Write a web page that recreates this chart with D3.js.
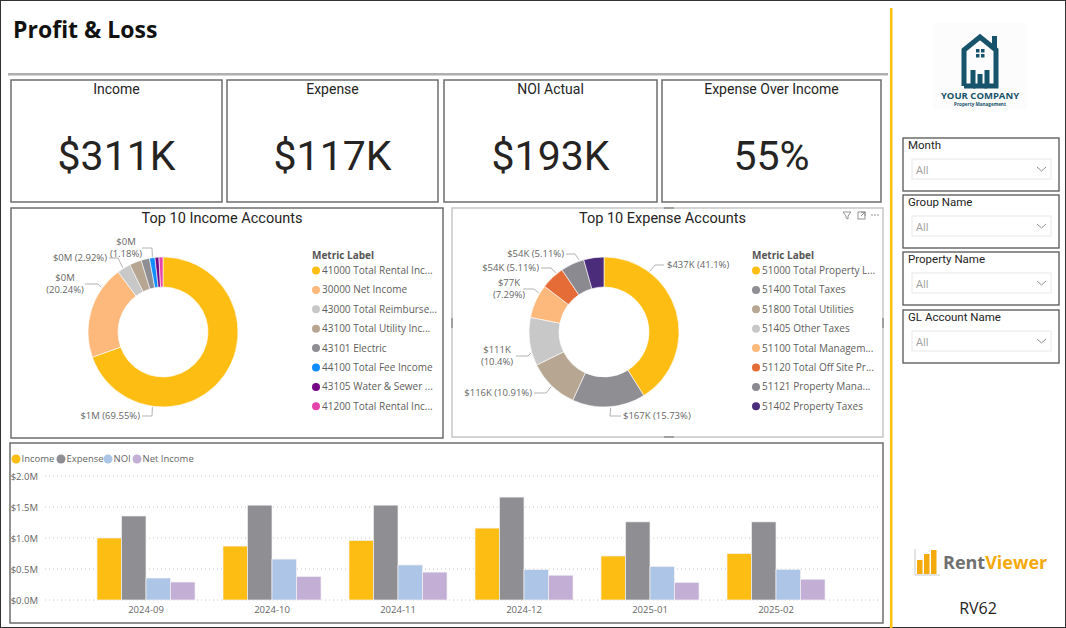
<!DOCTYPE html>
<html>
<head>
<meta charset="utf-8">
<script src="https://cdn.jsdelivr.net/npm/d3@7"></script>
<style>
  body { margin: 0; background: #fff; }
  svg { display: block; font-family: "Open Sans", sans-serif; }
</style>
</head>
<body>
<script>
const pageWidth = 1066;
const pageHeight = 628;

// KPI cards
const kpiTitles = ['Income', 'Expense', 'NOI Actual', 'Expense Over Income'];
const kpiValues = ['$311K', '$117K', '$193K', '55%'];

// Top 10 income accounts
const incomeAccounts = ['41000 Total Rental Inc...', '30000 Net Income', '43000 Total Reimburse...',
  '43100 Total Utility Inc...', '43101 Electric', '44100 Total Fee Income',
  '43105 Water & Sewer ...', '41200 Total Rental Inc...'];
const incomePct = [69.55, 20.24, 2.92, 2.6, 1.8, 1.18, 0.85, 0.86];
const incomeValueLabels = ['$1M', '$0M', '$0M', '$0M', '$0M', '$0M', '$0M', '$0M'];
const incomeColors = ['#FDBD12', '#FDB97C', '#C8C8C8', '#B6A692', '#8E8E93', '#118DFF', '#750985', '#E645AB'];

// Top 10 expense accounts
const expenseAccounts = ['51000 Total Property L...', '51400 Total Taxes', '51800 Total Utilities',
  '51405 Other Taxes', '51100 Total Managem...', '51120 Total Off Site Pr...',
  '51121 Property Mana...', '51402 Property Taxes'];
const expensePct = [41.1, 15.73, 10.91, 10.4, 7.29, 5.11, 5.11, 4.35];
const expenseValueLabels = ['$437K', '$167K', '$116K', '$111K', '$77K', '$54K', '$54K', '$46K'];
const expenseColors = ['#FDBD12', '#8E8E93', '#B6A692', '#C8C8C8', '#FDB97C', '#E66C37', '#8A8A90', '#4B2C7A'];

// Monthly bars ($M)
const months = ['2024-09', '2024-10', '2024-11', '2024-12', '2025-01', '2025-02'];
const seriesNames = ['Income', 'Expense', 'NOI', 'Net Income'];
const seriesColors = ['#FDBD12', '#8E8E93', '#ADC6E7', '#C3AED5'];
const incomeM = [1.0, 0.87, 0.96, 1.16, 0.71, 0.75];
const expenseM = [1.355, 1.53, 1.53, 1.66, 1.26, 1.26];
const noiM = [0.355, 0.66, 0.565, 0.49, 0.54, 0.495];
const netIncomeM = [0.29, 0.38, 0.45, 0.40, 0.285, 0.335];
const yTicks = [0, 0.5, 1.0, 1.5, 2.0];

// Slicers
const slicerTitles = ['Month', 'Group Name', 'Property Name', 'GL Account Name'];

// leader layouts (angle in degrees, offsets from donut centre)
const incomeLabelLayout = [
  { i: 0, a: 188, ex: -11, ey: 84, lx: -21, tx: -23, anchor: 'end', two: false },
  { i: 1, a: 306, ex: -65, ey: -48, lx: -78, tx: -98, anchor: 'middle', two: true },
  { i: 2, a: 328, ex: -45, ey: -74, lx: -54, tx: -56, anchor: 'end', two: false },
  { i: 5, a: 352, ex: -11, ey: -84, lx: -21, tx: -37, anchor: 'middle', two: true }
];
const expenseLabelLayout = [
  { i: 0, a: 37, ex: 51, ey: -67, lx: 60, tx: 63, anchor: 'start', two: false },
  { i: 1, a: 175, ex: 6, ey: 84, lx: 17, tx: 19, anchor: 'start', two: false },
  { i: 2, a: 224, ex: -58, ey: 61, lx: -70, tx: -72, anchor: 'end', two: false },
  { i: 3, a: 254, ex: -76, ey: 24, lx: -88, tx: -107, anchor: 'middle', two: true },
  { i: 4, a: 301, ex: -70, ey: -43, lx: -81, tx: -95, anchor: 'middle', two: true },
  { i: 5, a: 321, ex: -53, ey: -64, lx: -63, tx: -65, anchor: 'end', two: false },
  { i: 6, a: 341, ex: -29, ey: -78, lx: -38, tx: -40, anchor: 'end', two: false }
];

const dinFont = 'Roboto, sans-serif';
const panelStroke = '#6d6d6d';
const textGrey = '#666';

const svg = d3.select('body')
  .append('svg')
  .attr('width', pageWidth)
  .attr('height', pageHeight);

svg.append('rect')
  .attr('x', 0.5).attr('y', 0.5)
  .attr('width', pageWidth - 1).attr('height', pageHeight - 1)
  .attr('fill', '#fff').attr('stroke', '#333');

svg.append('text')
  .attr('x', 13).attr('y', 38)
  .attr('font-size', 23).attr('font-weight', 700)
  .attr('fill', '#111')
  .text('Profit & Loss');

svg.append('rect')
  .attr('x', 8).attr('y', 73).attr('width', 880).attr('height', 2.5)
  .attr('fill', '#aeaeae');

// yellow divider
svg.append('rect')
  .attr('x', 890).attr('y', 8).attr('width', 2.5).attr('height', pageHeight - 8)
  .attr('fill', '#FFC20E');

// KPI cards
const cardX = [11, 227, 444, 662];
const cardW = [211, 211, 213, 219];
kpiTitles.forEach((t, i) => {
  const g = svg.append('g').attr('transform', `translate(${cardX[i]},80)`);
  g.append('rect').attr('width', cardW[i]).attr('height', 122)
    .attr('fill', '#fff').attr('stroke', panelStroke).attr('stroke-width', 1.5);
  g.append('text').attr('x', cardW[i] / 2).attr('y', 14)
    .attr('text-anchor', 'middle').attr('font-family', dinFont)
    .attr('font-size', 14).attr('fill', '#252423').text(t);
  g.append('text').attr('x', cardW[i] / 2).attr('y', 90)
    .attr('text-anchor', 'middle').attr('font-family', dinFont)
    .attr('font-size', 41).attr('fill', '#252423').text(kpiValues[i]);
});

// donut panels
function drawDonutPanel(px, py, pw, ph, title, accounts, pcts, valueLabels, colors, layout, legendX, border) {
  const panel = svg.append('g').attr('transform', `translate(${px},${py})`);
  panel.append('rect').attr('width', pw).attr('height', ph)
    .attr('fill', '#fff').attr('stroke', border).attr('stroke-width', 1.5);
  panel.append('text').attr('x', pw / 2 - 5).attr('y', 15)
    .attr('text-anchor', 'middle').attr('font-family', dinFont)
    .attr('font-size', 14.5).attr('fill', '#252423').text(title);

  const cx = 152, cy = 124, outerR = 75, innerR = 45;
  const g = panel.append('g').attr('transform', `translate(${cx},${cy})`);
  const pie = d3.pie().sort(null).value(d => d);
  const arc = d3.arc().innerRadius(innerR).outerRadius(outerR);
  g.selectAll('path.slice')
    .data(pie(pcts))
    .enter()
    .append('path')
    .attr('class', 'slice')
    .attr('d', arc)
    .attr('fill', (d, i) => colors[i])
    .attr('stroke', '#fff')
    .attr('stroke-width', 0.6);

  layout.forEach(l => {
    const rad = l.a * Math.PI / 180;
    const sx = (outerR + 1) * Math.sin(rad);
    const sy = -(outerR + 1) * Math.cos(rad);
    g.append('polyline')
      .attr('points', `${sx},${sy} ${l.ex},${l.ey} ${l.lx},${l.ey}`)
      .attr('fill', 'none').attr('stroke', '#b3b3b3').attr('stroke-width', 1);
    const pctText = `(${pcts[l.i]}%)`;
    const t = g.append('text').attr('text-anchor', l.anchor)
      .attr('font-size', 9.5).attr('fill', textGrey);
    if (l.two) {
      t.append('tspan').attr('x', l.tx).attr('y', l.ey - 6).attr('dy', '0.35em').text(valueLabels[l.i]);
      t.append('tspan').attr('x', l.tx).attr('y', l.ey + 6).attr('dy', '0.35em').text(pctText);
    } else {
      t.attr('x', l.tx).attr('y', l.ey).attr('dy', '0.35em').text(`${valueLabels[l.i]} ${pctText}`);
    }
  });

  const legend = panel.append('g').attr('transform', `translate(${legendX},0)`);
  legend.append('text').attr('x', 0).attr('y', 47).attr('dy', '0.35em')
    .attr('font-size', 10).attr('font-weight', 700).attr('fill', '#555')
    .text('Metric Label');
  const items = legend.selectAll('g.item')
    .data(accounts)
    .enter()
    .append('g')
    .attr('class', 'item')
    .attr('transform', (d, i) => `translate(0,${62.5 + i * 19.4})`);
  items.append('circle').attr('cx', 4).attr('cy', 0).attr('r', 4)
    .attr('fill', (d, i) => colors[i]);
  items.append('text').attr('x', 10).attr('y', 0).attr('dy', '0.35em')
    .attr('font-size', 10).attr('fill', '#605E5C').text(d => d);
  return panel;
}

drawDonutPanel(11, 208, 432, 230, 'Top 10 Income Accounts', incomeAccounts, incomePct,
  incomeValueLabels, incomeColors, incomeLabelLayout, 301, panelStroke);
const expensePanel = drawDonutPanel(452, 208, 431, 229, 'Top 10 Expense Accounts', expenseAccounts, expensePct,
  expenseValueLabels, expenseColors, expenseLabelLayout, 300, '#c6c6c6');

// expense panel header icons and handles
const icons = expensePanel.append('g').attr('fill', 'none').attr('stroke', '#8a8a8a').attr('stroke-width', 0.9);
icons.append('path').attr('d', 'M391,4 h8 l-3,4 v3 l-2,-1 v-2 z');
icons.append('rect').attr('x', 406).attr('y', 4).attr('width', 7).attr('height', 7);
icons.append('path').attr('d', 'M409,4 h4 v4 M413,4 l-4,4');
[420, 423, 426].forEach(x => {
  expensePanel.append('circle').attr('cx', x).attr('cy', 7).attr('r', 0.8).attr('fill', '#8a8a8a');
});
[[212, -1, 10, 2], [212, 228, 10, 2], [-1, 110, 2, 10], [430, 110, 2, 10]].forEach(h => {
  expensePanel.append('rect').attr('x', h[0]).attr('y', h[1]).attr('width', h[2]).attr('height', h[3])
    .attr('fill', '#a0a0a0');
});

// grouped bar chart
const barPanel = svg.append('g');
barPanel.append('rect').attr('x', 10).attr('y', 443).attr('width', 873).attr('height', 180)
  .attr('fill', '#fff').attr('stroke', panelStroke).attr('stroke-width', 1.5);

const legendOffsets = [16, 61, 108, 137];
seriesNames.forEach((s, i) => {
  barPanel.append('circle').attr('cx', legendOffsets[i]).attr('cy', 459).attr('r', 4.5)
    .attr('fill', seriesColors[i]);
  barPanel.append('text').attr('x', legendOffsets[i] + 5.5).attr('y', 459).attr('dy', '0.35em')
    .attr('font-size', 9.5).attr('fill', textGrey).text(s);
});

const x0 = d3.scaleBand().domain(months).range([83, 839]).paddingInner(0.222).paddingOuter(0.111);
const x1 = d3.scaleBand().domain(seriesNames).range([0, x0.bandwidth()]);
const yScale = d3.scaleLinear().domain([0, 2]).range([600, 476]);

barPanel.append('g')
  .selectAll('line')
  .data(yTicks)
  .enter()
  .append('line')
  .attr('x1', 45).attr('x2', 880)
  .attr('y1', d => yScale(d)).attr('y2', d => yScale(d))
  .attr('stroke', '#c8c8c8').attr('stroke-width', 1).attr('stroke-dasharray', '1,3');

const yAxis = d3.axisLeft(yScale).tickValues(yTicks).tickSize(0).tickPadding(0)
  .tickFormat(d => `$${d.toFixed(1)}M`);
const yAxisG = barPanel.append('g').attr('transform', 'translate(38,0)').call(yAxis);
yAxisG.select('.domain').remove();
yAxisG.selectAll('text').attr('font-size', 9.5).attr('fill', textGrey).attr('font-family', '"Open Sans", sans-serif');

const rows = months.map((m, i) => ({ month: m, values: [incomeM[i], expenseM[i], noiM[i], netIncomeM[i]] }));
barPanel.append('g')
  .selectAll('g')
  .data(rows)
  .enter()
  .append('g')
  .attr('transform', d => `translate(${x0(d.month)},0)`)
  .selectAll('rect')
  .data(d => d.values.map((v, i) => ({ key: seriesNames[i], value: v, color: seriesColors[i] })))
  .enter()
  .append('rect')
  .attr('x', d => x1(d.key))
  .attr('y', d => yScale(d.value))
  .attr('width', x1.bandwidth())
  .attr('height', d => yScale(0) - yScale(d.value))
  .attr('fill', d => d.color)
  .attr('stroke', '#f2f2f2')
  .attr('stroke-width', 0.7);

const xAxis = d3.axisBottom(x0).tickSize(0).tickPadding(6);
const xAxisG = barPanel.append('g').attr('transform', 'translate(0,600)').call(xAxis);
xAxisG.select('.domain').remove();
xAxisG.selectAll('text').attr('font-size', 9.5).attr('fill', textGrey).attr('font-family', '"Open Sans", sans-serif');

// company logo
const teal = '#17536A';
const logo = svg.append('g');
logo.append('rect').attr('x', 933).attr('y', 23).attr('width', 94).attr('height', 87).attr('fill', '#fcfcfc');
logo.append('path')
  .attr('d', 'M964,86 V50 L980,37 L996,50 V86 H987 V70 M964,86 H973 V70')
  .attr('fill', 'none').attr('stroke', teal).attr('stroke-width', 5).attr('stroke-linejoin', 'miter');
logo.append('path')
  .attr('d', 'M973,86 H987 M980,86 V74')
  .attr('fill', 'none').attr('stroke', teal).attr('stroke-width', 5);
logo.append('rect').attr('x', 992).attr('y', 36).attr('width', 5).attr('height', 12).attr('fill', teal);
[[976, 49], [981, 49], [976, 54], [981, 54]].forEach(p => {
  logo.append('rect').attr('x', p[0]).attr('y', p[1]).attr('width', 3.5).attr('height', 3.5).attr('fill', teal);
});
logo.append('text').attr('x', 980).attr('y', 96).attr('dy', '0.35em').attr('text-anchor', 'middle')
  .attr('font-size', 9.5).attr('font-weight', 700).attr('fill', teal).text('YOUR COMPANY');
logo.append('text').attr('x', 980).attr('y', 104).attr('dy', '0.35em').attr('text-anchor', 'middle')
  .attr('font-size', 4.6).attr('font-weight', 700).attr('fill', teal).text('Property Management');

// slicers
const slicerY = [138, 195, 252, 310];
slicerTitles.forEach((t, i) => {
  const g = svg.append('g').attr('transform', `translate(903,${slicerY[i]})`);
  g.append('rect').attr('width', 156).attr('height', 53)
    .attr('fill', '#fff').attr('stroke', '#555').attr('stroke-width', 1.3);
  g.append('text').attr('x', 5).attr('y', 7).attr('dy', '0.35em')
    .attr('font-family', dinFont).attr('font-size', 11.5).attr('fill', '#252423').text(t);
  g.append('rect').attr('x', 9).attr('y', 21).attr('width', 139).attr('height', 20)
    .attr('fill', '#fff').attr('stroke', '#e8e8e8');
  g.append('text').attr('x', 13).attr('y', 32).attr('dy', '0.35em')
    .attr('font-size', 11).attr('fill', '#a0a0a0').text('All');
  g.append('path').attr('d', 'M134,29 l4.5,4 l4.5,-4')
    .attr('fill', 'none').attr('stroke', '#909090').attr('stroke-width', 1);
});

// RentViewer logo
const rv = svg.append('g');
rv.append('path').attr('d', 'M915,549 V575 H940').attr('fill', 'none').attr('stroke', '#c9c9c9').attr('stroke-width', 1);
[[917, 560], [924, 554], [931, 550]].forEach(b => {
  rv.append('rect').attr('x', b[0]).attr('y', b[1]).attr('width', 5.5).attr('height', 574 - b[1]).attr('fill', '#F4A90C');
});
const rvText = rv.append('text').attr('x', 943).attr('y', 569).attr('font-size', 18).attr('font-weight', 700);
rvText.append('tspan').attr('fill', '#707070').text('Rent');
rvText.append('tspan').attr('fill', '#F4A90C').text('Viewer');

svg.append('text').attr('x', 978).attr('y', 608).attr('dy', '0.35em').attr('text-anchor', 'middle')
  .attr('font-size', 16).attr('fill', '#252423').text('RV62');
</script>
</body>
</html>
